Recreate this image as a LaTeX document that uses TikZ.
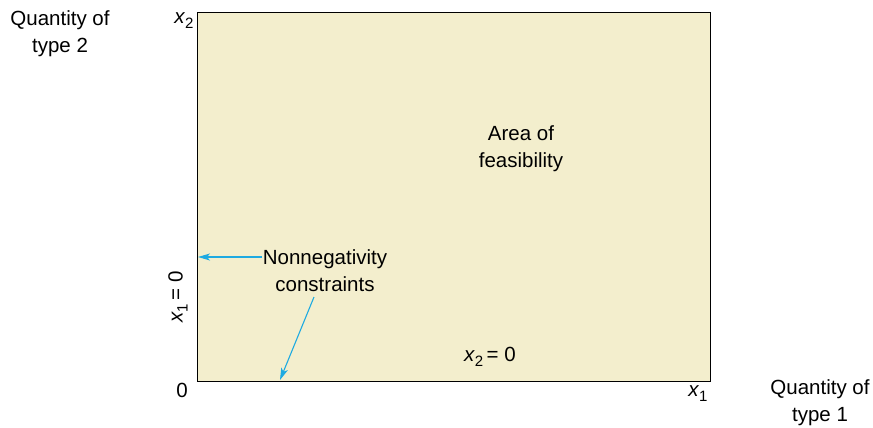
\documentclass[tikz,border=0pt]{standalone}
\usepackage{fontspec}
\setmainfont{Liberation Sans}
\usetikzlibrary{arrows.meta}
\definecolor{feasfill}{RGB}{243,238,205}
\definecolor{callout}{RGB}{30,170,225}
% italic variable with a lowered upright index, all in the text font
\newcommand{\varsub}[2]{{\itshape #1}\kern0.5pt\raisebox{-0.45ex}{\fontsize{15}{15}\selectfont #2}}
\begin{document}
\begin{tikzpicture}[x=1pt,y=-1pt,
  lbl/.style={font=\fontsize{20.5}{27}\selectfont, inner sep=0pt, align=center},
  pointer/.style={draw=callout, line width=1.1pt, -{Stealth[length=12pt,width=7pt,inset=3pt]}}]
  \useasboundingbox (0,0) rectangle (873,428);
  % feasible region
  \draw[fill=feasfill, line width=1pt] (197,13) rectangle (710,381);
  % axis labels
  \node[lbl] (ylab) at (60,34) {Quantity of\\type 2};
  \node[lbl] (xlab) at (820,403) {Quantity of\\type 1};
  \node[lbl] (x2) at (184,21) {\varsub{x}{2}};
  \node[lbl] (x1) at (698,394) {\varsub{x}{1}};
  \node[lbl] (zero) at (182,390) {0};
  % region and constraint labels
  \node[lbl] (area) at (521,149) {Area of\\feasibility};
  \node[lbl] (nonneg) at (325,271) {Nonnegativity\\constraints};
  \node[lbl, rotate=90] (x1zero) at (178,297) {\varsub{x}{1}\,= 0};
  \node[lbl] (x2zero) at (490,357) {\varsub{x}{2}\,= 0};
  % pointers to the constraint edges
  \coordinate (leftstart) at (262,257);
  \coordinate (leftedge) at (198,257);
  \coordinate (lowstart) at (314,297);
  \coordinate (bottomedge) at (280,380);
  \draw[pointer] (leftstart) -- (leftedge);
  \draw[pointer] (lowstart) -- (bottomedge);
\end{tikzpicture}
\end{document}
